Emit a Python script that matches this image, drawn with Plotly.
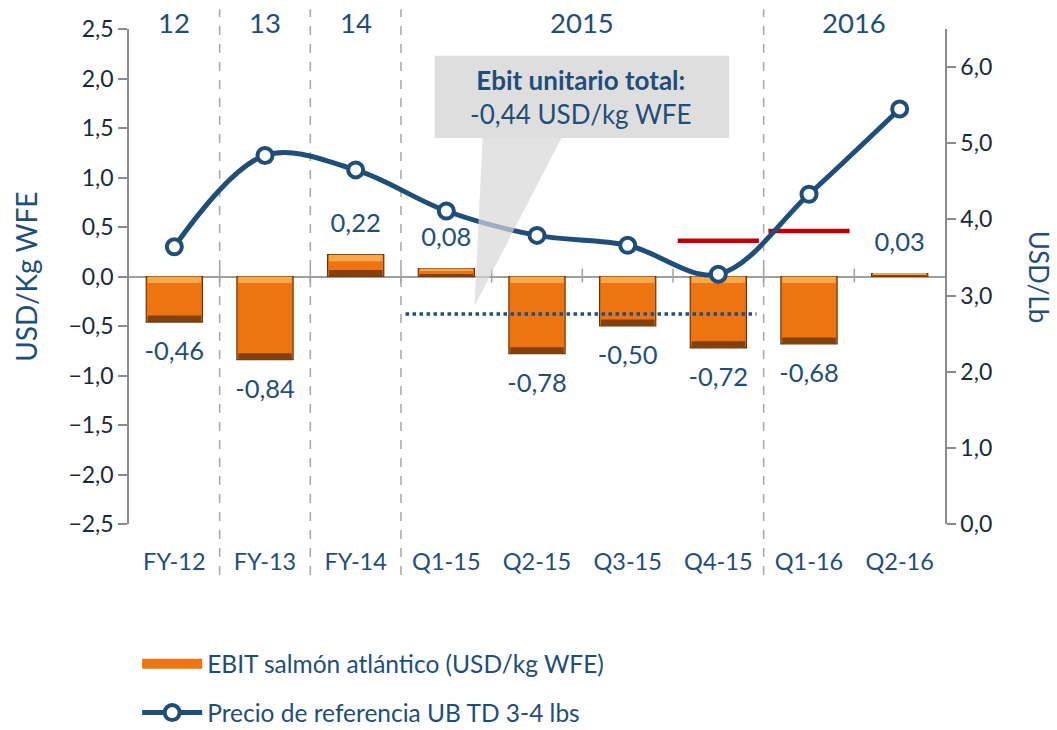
import plotly.graph_objects as go

categories = ["FY-12", "FY-13", "FY-14", "Q1-15", "Q2-15", "Q3-15", "Q4-15", "Q1-16", "Q2-16"]
ebit = [-0.46, -0.84, 0.22, 0.08, -0.78, -0.50, -0.72, -0.68, 0.03]
price = [3.64, 4.84, 4.65, 4.11, 3.79, 3.66, 3.28, 4.33, 5.45]
red_cats = ["Q4-15", "Q1-16"]
red_vals = [0.36, 0.46]
avg_ebit_line = -0.38
period_labels = ["12", "13", "14", "2015", "2016"]
period_pos = [0, 1, 2, 4.5, 7.5]
separators_pos = [0.5, 1.5, 2.5, 6.5]
left_ticks = [-2.5, -2.0, -1.5, -1.0, -0.5, 0.0, 0.5, 1.0, 1.5, 2.0, 2.5]
right_ticks = [0, 1, 2, 3, 4, 5, 6]

BLUE = "#1F4E79"
DARK = "#1B2838"
FONT = "Lato"
ORANGE = "#EE7411"

fig = go.Figure()

BW = 0.62
# main bars
fig.add_trace(go.Bar(
    x=categories, y=ebit, width=BW, name="EBIT salmón atlántico (USD/kg WFE)",
    marker=dict(color=ORANGE, line=dict(color="#6B3408", width=1.2)),
    legendgroup="a", showlegend=False,
))
# legend swatch for the bars (wide rectangle like the original)
fig.add_trace(go.Scatter(
    x=[None], y=[None], mode="lines", name="EBIT salmón atlántico (USD/kg WFE)",
    line=dict(color=ORANGE, width=14), legendgroup="a", showlegend=True, hoverinfo="skip",
))
# bevel bands: light on top edge, dark on bottom edge
band = [min(0.065, abs(v) * 0.3) for v in ebit]
top_edge = [max(v, 0) for v in ebit]
bot_edge = [min(v, 0) for v in ebit]
fig.add_trace(go.Bar(
    x=categories, y=band, base=[t - b for t, b in zip(top_edge, band)], width=BW - 0.03,
    marker=dict(color="#F9A849", line=dict(width=0)), showlegend=False, hoverinfo="skip",
))
fig.add_trace(go.Bar(
    x=categories, y=band, base=bot_edge, width=BW - 0.03,
    marker=dict(color="#82400C", line=dict(width=0)), showlegend=False, hoverinfo="skip",
))

# bar value labels
fig.add_trace(go.Scatter(
    x=categories, y=[v + (0.29 if v >= 0 else -0.32) for v in ebit],
    mode="text", text=[f"{v:.2f}".replace(".", ",") for v in ebit],
    textfont=dict(family=FONT, size=25.5, color=BLUE), showlegend=False, hoverinfo="skip",
))

# red marks
fig.add_trace(go.Scatter(
    x=red_cats, y=red_vals, mode="markers",
    marker=dict(symbol="line-ew-open", size=58, color="#C00000", line=dict(color="#C00000", width=4.5)),
    showlegend=False, hoverinfo="skip",
))

# price line
fig.add_trace(go.Scatter(
    x=categories, y=price, yaxis="y2", mode="lines+markers",
    name="Precio de referencia UB TD 3-4 lbs",
    line=dict(color=BLUE, width=5, shape="spline", smoothing=1.0),
    marker=dict(symbol="circle", size=15, color="white", line=dict(color=BLUE, width=4)),
    legendgroup="b",
))

shapes = []
for p in separators_pos:
    shapes.append(dict(type="line", xref="x", yref="paper", x0=p, x1=p, y0=-0.103, y1=1.04,
                       line=dict(color="#A6A6A6", width=1.5, dash="dash"), layer="below"))
for i in range(len(categories) - 1):
    b = i + 0.5
    shapes.append(dict(type="line", xref="x", yref="y", x0=b, x1=b, y0=-0.06, y1=0.08,
                       line=dict(color="#A0A0A0", width=1.5), layer="below"))
# dotted average line
shapes.append(dict(type="line", xref="x", yref="y", x0=2.55, x1=6.42, y0=avg_ebit_line, y1=avg_ebit_line,
                   line=dict(color=BLUE, width=3.5, dash="dot"), layer="above"))
# callout box and tail
shapes.append(dict(type="rect", xref="x", yref="y", x0=2.87, x1=6.12, y0=1.40, y1=2.23,
                   fillcolor="#DEDEDE", line=dict(width=0), layer="above"))
shapes.append(dict(type="path", xref="x", yref="y",
                   path="M 3.40 1.40 L 4.27 1.40 L 3.31 -0.30 Z",
                   fillcolor="rgba(215,215,215,0.7)", line=dict(width=0), layer="above"))

annotations = []
for lab, pos in zip(period_labels, period_pos):
    annotations.append(dict(x=pos, y=1.014, xref="x", yref="paper", text=lab, showarrow=False,
                            font=dict(family=FONT, size=27.5, color=BLUE), yanchor="middle"))
annotations.append(dict(x=4.49, y=1.81, xref="x", yref="y",
                        text="<b>Ebit unitario total:</b><br>-0,44 USD/kg WFE", showarrow=False,
                        font=dict(family=FONT, size=26, color=BLUE), align="center"))
annotations.append(dict(x=-0.127, y=0.5, xref="paper", yref="paper", text="USD/Kg WFE", textangle=-90,
                        xanchor="center", yanchor="middle",
                        showarrow=False, font=dict(family=FONT, size=28, color=BLUE)))
annotations.append(dict(x=1.116, y=0.5, xref="paper", yref="paper", text="USD/Lb", textangle=90,
                        xanchor="center", yanchor="middle",
                        showarrow=False, font=dict(family=FONT, size=26, color=BLUE)))

fig.update_layout(
    width=1057, height=730,
    margin=dict(l=129, r=112, t=29, b=206, autoexpand=False),
    paper_bgcolor="white", plot_bgcolor="white",
    separators=",.",
    barmode="overlay",
    font=dict(family=FONT, color=DARK),
    xaxis=dict(type="category", categoryorder="array", categoryarray=categories,
               range=[-0.5, 8.5], showline=False, showgrid=False, ticks="",
               tickfont=dict(family=FONT, size=23.5, color=BLUE), ticklabelstandoff=21),
    yaxis=dict(range=[-2.5, 2.5], tickvals=left_ticks, tickformat=".1f", showgrid=False,
               showline=True, linecolor="#8C8C8C", linewidth=1.5, ticks="outside", ticklen=9,
               tickcolor="#8C8C8C", tickwidth=1.5, zeroline=True, zerolinecolor="#A0A0A0",
               zerolinewidth=1.5, tickfont=dict(family=FONT, size=23, color=DARK)),
    yaxis2=dict(range=[0, 6.5], tickvals=right_ticks, tickformat=".1f", overlaying="y", side="right",
                showgrid=False, showline=True, linecolor="#8C8C8C", linewidth=1.5, ticks="outside",
                ticklen=9, tickcolor="#8C8C8C", tickwidth=1.5, zeroline=False,
                tickfont=dict(family=FONT, size=23, color=DARK)),
    showlegend=True,
    legend=dict(x=0.01, y=-0.237, xanchor="left", yanchor="top", orientation="v",
                traceorder="grouped", tracegroupgap=14,
                font=dict(family=FONT, size=24.5, color=BLUE), itemwidth=60,
                bgcolor="rgba(0,0,0,0)"),
    shapes=shapes, annotations=annotations,
)

# remove the default 8px page margin so the figure fills the 1057x730 window exactly
fig.write_html("out.html", config={"displayModeBar": False},
               post_script="document.body.style.margin='0';document.body.style.overflow='hidden';")
